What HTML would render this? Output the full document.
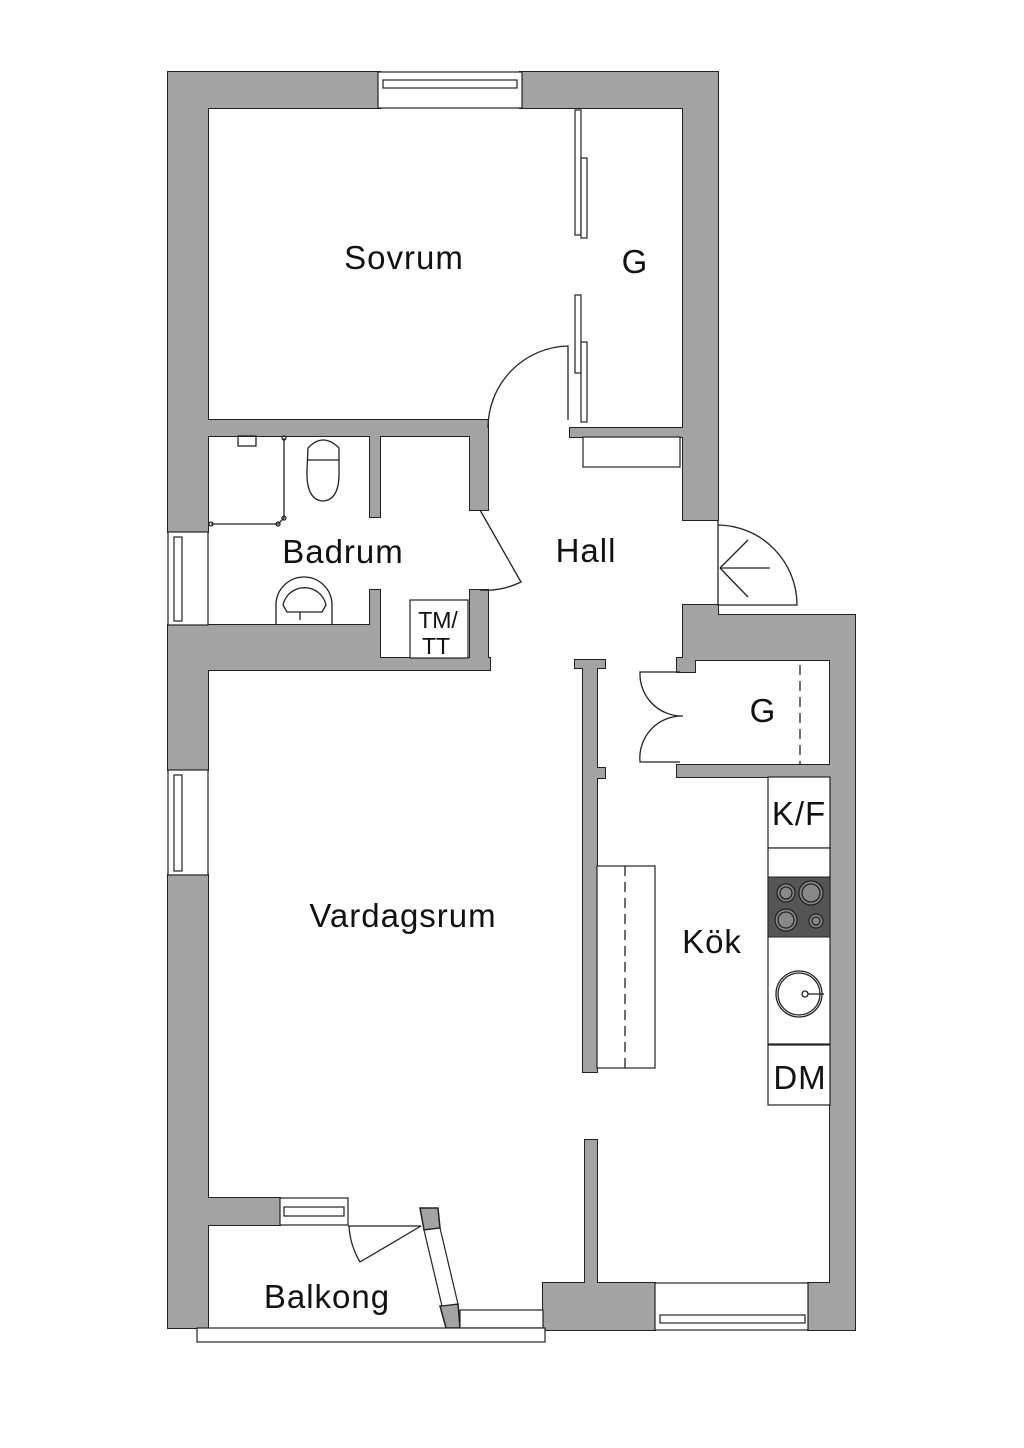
<!DOCTYPE html>
<html><head><meta charset="utf-8"><style>
html,body{margin:0;padding:0;background:#fff}
svg{display:block}
text{font-family:"Liberation Sans",sans-serif;fill:#111}
</style></head><body>
<svg width="1024" height="1448" viewBox="0 0 1024 1448" xmlns="http://www.w3.org/2000/svg">
<defs>
<g id="walls">
<rect x="168" y="72" width="212" height="36"/>
<rect x="520" y="72" width="198" height="36"/>
<rect x="168" y="72" width="40" height="460"/>
<rect x="168" y="625" width="40" height="145"/>
<rect x="168" y="875" width="40" height="453"/>
<rect x="683" y="72" width="35" height="448"/>
<rect x="683" y="605" width="35" height="55"/>
<rect x="683" y="615" width="172" height="45"/>
<rect x="830" y="615" width="25" height="715"/>
<rect x="206" y="420" width="282" height="16"/>
<rect x="570" y="428" width="115" height="9"/>
<rect x="370" y="434" width="10" height="83"/>
<rect x="370" y="590" width="10" height="70"/>
<rect x="470" y="434" width="18" height="76"/>
<rect x="470" y="590" width="18" height="70"/>
<rect x="168" y="625" width="212" height="45"/>
<rect x="378" y="658" width="112" height="12"/>
<rect x="677" y="765" width="155" height="12"/>
<rect x="677" y="658" width="18" height="14"/>
<rect x="583" y="666" width="14" height="406"/>
<rect x="575" y="660" width="30" height="8"/>
<rect x="595" y="768" width="10" height="10"/>
<rect x="585" y="1140" width="12" height="145"/>
<rect x="206" y="1198" width="74" height="27"/>
<rect x="543" y="1283" width="112" height="47"/>
<rect x="808" y="1283" width="47" height="47"/>
</g>
</defs>
<use href="#walls" fill="#a3a3a3" stroke="#222" stroke-width="2"/>
<use href="#walls" fill="#a3a3a3" stroke="#a3a3a3" stroke-width="0" transform="translate(0,0)"/>
<g fill="#a3a3a3" stroke="#222" stroke-width="1.5">
<polygon points="420,1208 438,1208 440,1228 424,1230"/>
<polygon points="440,1306 458,1304 460,1328 446,1328"/>
</g>
<g fill="#fff" stroke="#222" stroke-width="1.2">
<rect x="378" y="72" width="144" height="36"/>
<rect x="383" y="80" width="134" height="8"/>
<rect x="168" y="532" width="40" height="93"/>
<rect x="174" y="537" width="8" height="84"/>
<rect x="168" y="770" width="40" height="105"/>
<rect x="174" y="775" width="8" height="96"/>
<rect x="280" y="1198" width="68" height="27"/>
<rect x="284" y="1207" width="60" height="9"/>
<rect x="460" y="1310" width="83" height="18"/>
<rect x="655" y="1283" width="153" height="47"/>
<rect x="660" y="1315" width="145" height="8"/>
<polygon points="424,1230 440,1228 458,1304 442,1306"/>
<rect x="575" y="110" width="6" height="125"/>
<rect x="581" y="158" width="6" height="80"/>
<rect x="575" y="295" width="6" height="78"/>
<rect x="581" y="342" width="6" height="80"/>
<rect x="583" y="437" width="97" height="30"/>
<rect x="410" y="600" width="58" height="58"/>
<rect x="768" y="777" width="62" height="71"/>
<rect x="768" y="848" width="62" height="196"/>
<rect x="768" y="1045" width="62" height="60"/>
<rect x="597" y="866" width="58" height="202"/>
<rect x="197" y="1328" width="348" height="14"/>
</g>
<rect x="768" y="877" width="62" height="60" fill="#555" stroke="#222"/>
<g fill="#888" stroke="#222" stroke-width="1.3">
<circle cx="786" cy="893" r="9"/><circle cx="786" cy="893" r="6"/>
<circle cx="811" cy="893" r="12"/><circle cx="811" cy="893" r="9"/>
<circle cx="786" cy="920" r="11"/><circle cx="786" cy="920" r="8"/>
<circle cx="816" cy="921" r="7"/><circle cx="816" cy="921" r="4"/>
</g>
<g fill="none" stroke="#222" stroke-width="1.3">
<circle cx="799" cy="994" r="23"/><circle cx="799" cy="994" r="21"/>
<circle cx="805" cy="994" r="3"/><line x1="808" y1="994" x2="824" y2="994"/>
<line x1="625" y1="866" x2="625" y2="1068" stroke-dasharray="10,6"/>
<line x1="800" y1="665" x2="800" y2="765" stroke-dasharray="10,6"/>
<path d="M488,428 A82,82 0 0 1 568,346 L568,420"/>
<path d="M480,510 L521,582 A80,80 0 0 1 480,590"/>
<path d="M718,520 L718,605 L797,605 A80,80 0 0 0 718,525"/>
<line x1="720" y1="568" x2="770" y2="568"/><line x1="720" y1="568" x2="748" y2="540"/><line x1="720" y1="568" x2="748" y2="597"/>
<path d="M680,672 L640,672 A42,42 0 0 0 683,716 A42,42 0 0 0 640,762 L680,762"/>
<line x1="348" y1="1226" x2="421" y2="1226"/>
<line x1="421" y1="1226" x2="360" y2="1262"/>
<path d="M360,1262 Q350,1245 349,1226"/>
<path d="M308,448 Q323,432 339,448 L339,470 Q340,500 323,501 Q306,500 307,470 Z"/>
<line x1="308" y1="460" x2="339" y2="460"/>
<path d="M276,624 L276,605 A27,27 0 0 1 332,605 L332,624"/>
<path d="M283,605 A22,22 0 0 1 326,605 L322,612 L287,612 Z"/>
<line x1="300" y1="612" x2="300" y2="620"/>
<polyline points="211,524 278,524 284,518 284,438"/>
<circle cx="211" cy="524" r="2"/><circle cx="278" cy="524" r="2"/><circle cx="284" cy="518" r="2"/><circle cx="284" cy="438" r="2"/>
<rect x="238" y="436" width="18" height="10"/>
</g>
<g font-size="33" letter-spacing="1">
<text x="404" y="269" text-anchor="middle">Sovrum</text>
<text x="635" y="273" text-anchor="middle">G</text>
<text x="343" y="563" text-anchor="middle">Badrum</text>
<text x="586" y="562" text-anchor="middle">Hall</text>
<text x="403" y="927" text-anchor="middle">Vardagsrum</text>
<text x="712" y="953" text-anchor="middle">Kök</text>
<text x="763" y="722" text-anchor="middle">G</text>
<text x="799" y="825" text-anchor="middle">K/F</text>
<text x="800" y="1089" text-anchor="middle">DM</text>
<text x="327" y="1308" text-anchor="middle">Balkong</text>
</g>
<g font-size="23">
<text x="438" y="628" text-anchor="middle">TM/</text>
<text x="436" y="654" text-anchor="middle">TT</text>
</g>
</svg>
</body></html>
